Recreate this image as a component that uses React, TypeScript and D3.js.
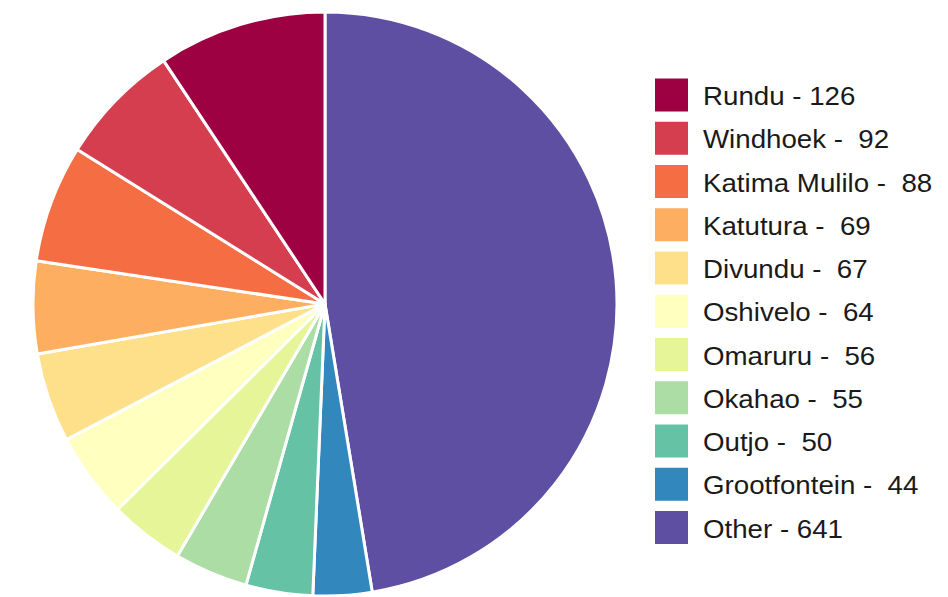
import React from "react";
import * as d3 from "d3";

const categories = ["Rundu", "Windhoek", "Katima Mulilo", "Katutura", "Divundu", "Oshivelo", "Omaruru", "Okahao", "Outjo", "Grootfontein", "Other"];
const values = [126, 92, 88, 69, 67, 64, 56, 55, 50, 44, 641];
const legendLabels = ["Rundu - 126", "Windhoek -  92", "Katima Mulilo -  88", "Katutura -  69", "Divundu -  67", "Oshivelo -  64", "Omaruru -  56", "Okahao -  55", "Outjo -  50", "Grootfontein -  44", "Other - 641"];
const colors = ["#9E0142", "#D53E4F", "#F46D43", "#FDAE61", "#FEE08B", "#FFFFBF", "#E6F598", "#ABDDA4", "#66C2A5", "#3288BD", "#5E4FA2"];

const W = 948;
const H = 597;
const cx = 325;
const cy = 304;
const R = 292;

export default function App() {
  const items = categories.map((c, i) => ({ name: c, value: values[i], color: colors[i], label: legendLabels[i] }));
  // pie drawn clockwise from top starting with "Other", then reversed order
  const pieOrder = [...items].reverse();
  const pie = d3.pie<any>().sort(null).value((d: any) => d.value);
  const arcs = pie(pieOrder);
  const arc = d3.arc<any>().innerRadius(0).outerRadius(R);

  const legendY = d3.scalePoint<string>().domain(categories).range([95, 527.5]);

  return (
    <svg width={W} height={H} style={{ position: "absolute", left: 0, top: 0, background: "#fff" }}>
      <g transform={`translate(${cx},${cy})`}>
        {arcs.map((a, i) => (
          <path key={i} d={arc(a) || ""} fill={a.data.color} stroke="#fff" strokeWidth={3} strokeLinejoin="round" />
        ))}
      </g>
      <g>
        {items.map((d, i) => {
          const y = legendY(d.name) as number;
          return (
            <g key={i}>
              <rect x={655} y={y - 16.5} width={33} height={33} fill={d.color} />
              <g transform={`translate(703,${y + 10}) scale(1.065,1)`}>
                <text x={0} y={0} fontFamily="Liberation Sans, Arial, sans-serif" fontSize={26} fill="#1a1a1a" style={{ whiteSpace: "pre" }}>
                  {d.label}
                </text>
              </g>
            </g>
          );
        })}
      </g>
    </svg>
  );
}
